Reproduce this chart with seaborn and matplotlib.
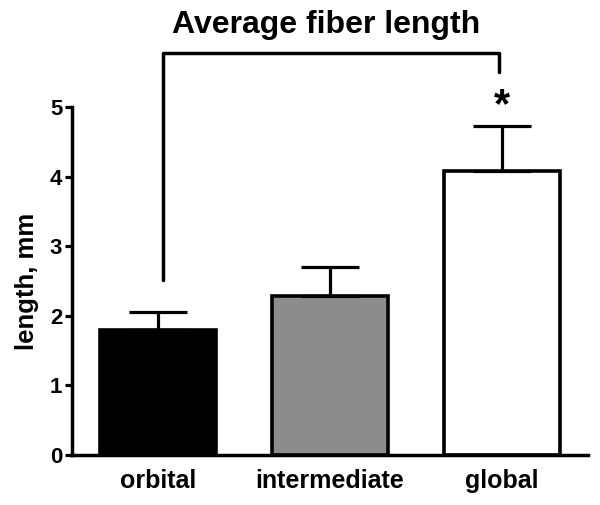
import matplotlib
matplotlib.use('Agg')
import matplotlib.pyplot as plt
import seaborn as sns
import pandas as pd

# Data
groups = ['orbital', 'intermediate', 'global']
mean_length = [1.79, 2.28, 4.08]
sem_length = [0.26, 0.42, 0.65]
bar_colors = ['black', '#8c8c8c', 'white']

df = pd.DataFrame({'group': groups, 'length': mean_length})

sns.set_style('ticks')
plt.rcParams['font.family'] = ['Liberation Sans', 'DejaVu Sans']
plt.rcParams['font.weight'] = 'bold'
for key in ['text.color', 'axes.labelcolor', 'xtick.color', 'ytick.color', 'axes.edgecolor']:
    plt.rcParams[key] = 'black'

fig = plt.figure(figsize=(6, 5.05), dpi=100)
ax = fig.add_axes([0.12, 0.099, 0.86, 0.689])

sns.barplot(data=df, x='group', y='length', hue='group', palette=bar_colors,
            edgecolor='black', linewidth=2.6, width=0.67, legend=False, ax=ax)
ax.errorbar(range(len(groups)), mean_length,
            yerr=[[0] * len(groups), sem_length],
            fmt='none', ecolor='black', elinewidth=2.3, capsize=21, capthick=2.3, zorder=1)

ax.set_xlim(-0.5, 2.5)
ax.set_ylim(0, 5)
ax.set_yticks([0, 1, 2, 3, 4, 5])
ax.set_xlabel('')
ax.set_ylabel('length, mm', fontsize=18.5, fontweight='bold', labelpad=8)
ax.tick_params(axis='y', labelsize=16, width=2.3, length=5, pad=2)
ax.tick_params(axis='x', labelsize=18, length=0, pad=10)
for lab in ax.get_xticklabels() + ax.get_yticklabels():
    lab.set_fontweight('bold')
sns.despine(ax=ax)
ax.spines['left'].set_linewidth(2.5)
ax.spines['bottom'].set_linewidth(2.5)
ax.spines['bottom'].set_zorder(5)

# significance bracket orbital vs global
ax.plot([0.03, 0.03, 1.98, 1.98], [2.52, 5.78, 5.78, 5.5], color='black',
        lw=2.5, clip_on=False, solid_capstyle='round')
ax.text(2.0, 5.02, '*', ha='center', va='center', fontsize=30, fontweight='bold')
ax.text(0.98, 6.18, 'Average fiber length', ha='center', va='center',
        fontsize=23, fontweight='bold')

fig.savefig('out.png', dpi=100)
